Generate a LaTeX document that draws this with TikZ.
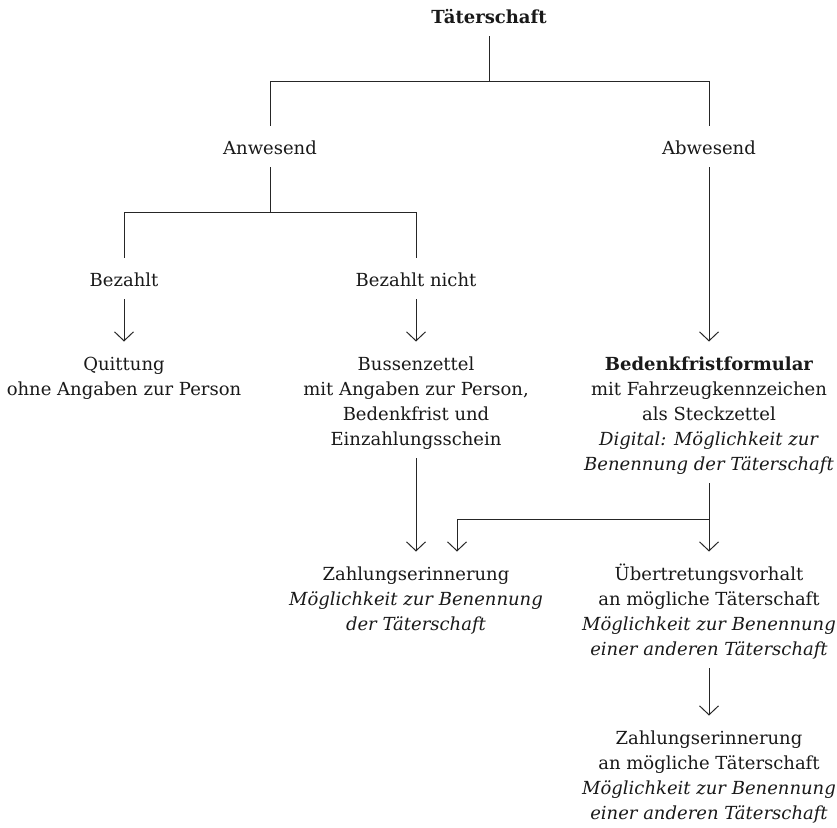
\documentclass[tikz,border=0pt]{standalone}
\usepackage{fontspec}
\setmainfont{DejaVu Serif}
\usetikzlibrary{arrows.meta}

% struts that fix the gap between a node's text and its connectors
\newcommand{\gaptop}{\rule{0pt}{28.5pt}}
\newcommand{\gapbot}{\rule[-13pt]{0pt}{13pt}}

\tikzset{
  txt/.style={anchor=north, align=center, inner sep=0pt, outer sep=0pt,
    font=\fontsize{18}{25}\selectfont, text=black!90},
  link/.style={draw=black!85, line width=1pt},
  arr/.style={link, -{Straight Barb[length=9pt, width=19pt]}}
}

\begin{document}
\begin{tikzpicture}[x=1pt, y=-1pt]
\useasboundingbox (0,0) rectangle (837,827);

% nodes (placed at first baseline minus the top gap)
\node[txt] (tat)   at (489,-5.5)  {\gaptop\textbf{Täterschaft}\gapbot};
\node[txt] (anw)   at (270,125.5) {\gaptop Anwesend\gapbot};
\node[txt] (abw)   at (709,125.5) {\gaptop Abwesend\gapbot};
\node[txt] (bez)   at (124,257.5) {\gaptop Bezahlt\gapbot};
\node[txt] (bezn)  at (416,257.5) {\gaptop Bezahlt nicht\gapbot};
\node[txt] (quit)  at (124,341.5) {\gaptop Quittung\\ohne Angaben zur Person\gapbot};
\node[txt] (buss)  at (416,341.5) {\gaptop Bussenzettel\\mit Angaben zur Person,\\Bedenkfrist und\\Einzahlungsschein\gapbot};
\node[txt] (bed)   at (709,341.5) {\gaptop\textbf{Bedenkfristformular}\\mit Fahrzeugkennzeichen\\als Steckzettel\\\textit{Digital: Möglichkeit zur}\\\textit{Benennung der Täterschaft}\gapbot};
\node[txt] (zahla) at (416,551.5) {\gaptop Zahlungserinnerung\\\textit{Möglichkeit zur Benennung}\\\textit{der Täterschaft}\gapbot};
\node[txt] (uebt)  at (709,551.5) {\gaptop Übertretungsvorhalt\\an mögliche Täterschaft\\\textit{Möglichkeit zur Benennung}\\\textit{einer anderen Täterschaft}\gapbot};
\node[txt] (zahlb) at (709,715.5) {\gaptop Zahlungserinnerung\\an mögliche Täterschaft\\\textit{Möglichkeit zur Benennung}\\\textit{einer anderen Täterschaft}\gapbot};

% junction points of the tree lines
\coordinate (j1) at (489,81);
\coordinate (j2) at (270,212);
\coordinate (j3) at (709,519);
\coordinate (zin) at ([xshift=41pt]zahla.north);

% top split
\draw[link] (tat.south) -- (j1);
\draw[link] (anw.north) -- (anw.north |- j1) -- (abw.north |- j1) -- (abw.north);

% split below "Anwesend"
\draw[link] (anw.south) -- (j2);
\draw[link] (bez.north) -- (bez.north |- j2) -- (bezn.north |- j2) -- (bezn.north);

% arrows
\draw[arr] (bez.south) -- (quit.north);
\draw[arr] (bezn.south) -- (buss.north);
\draw[arr] (abw.south) -- (bed.north);
\draw[arr] (buss.south) -- (zahla.north);
\draw[arr] (bed.south) -- (uebt.north);
\draw[arr] (j3) -| (zin);
\draw[arr] (uebt.south) -- (zahlb.north);
\end{tikzpicture}
\end{document}
